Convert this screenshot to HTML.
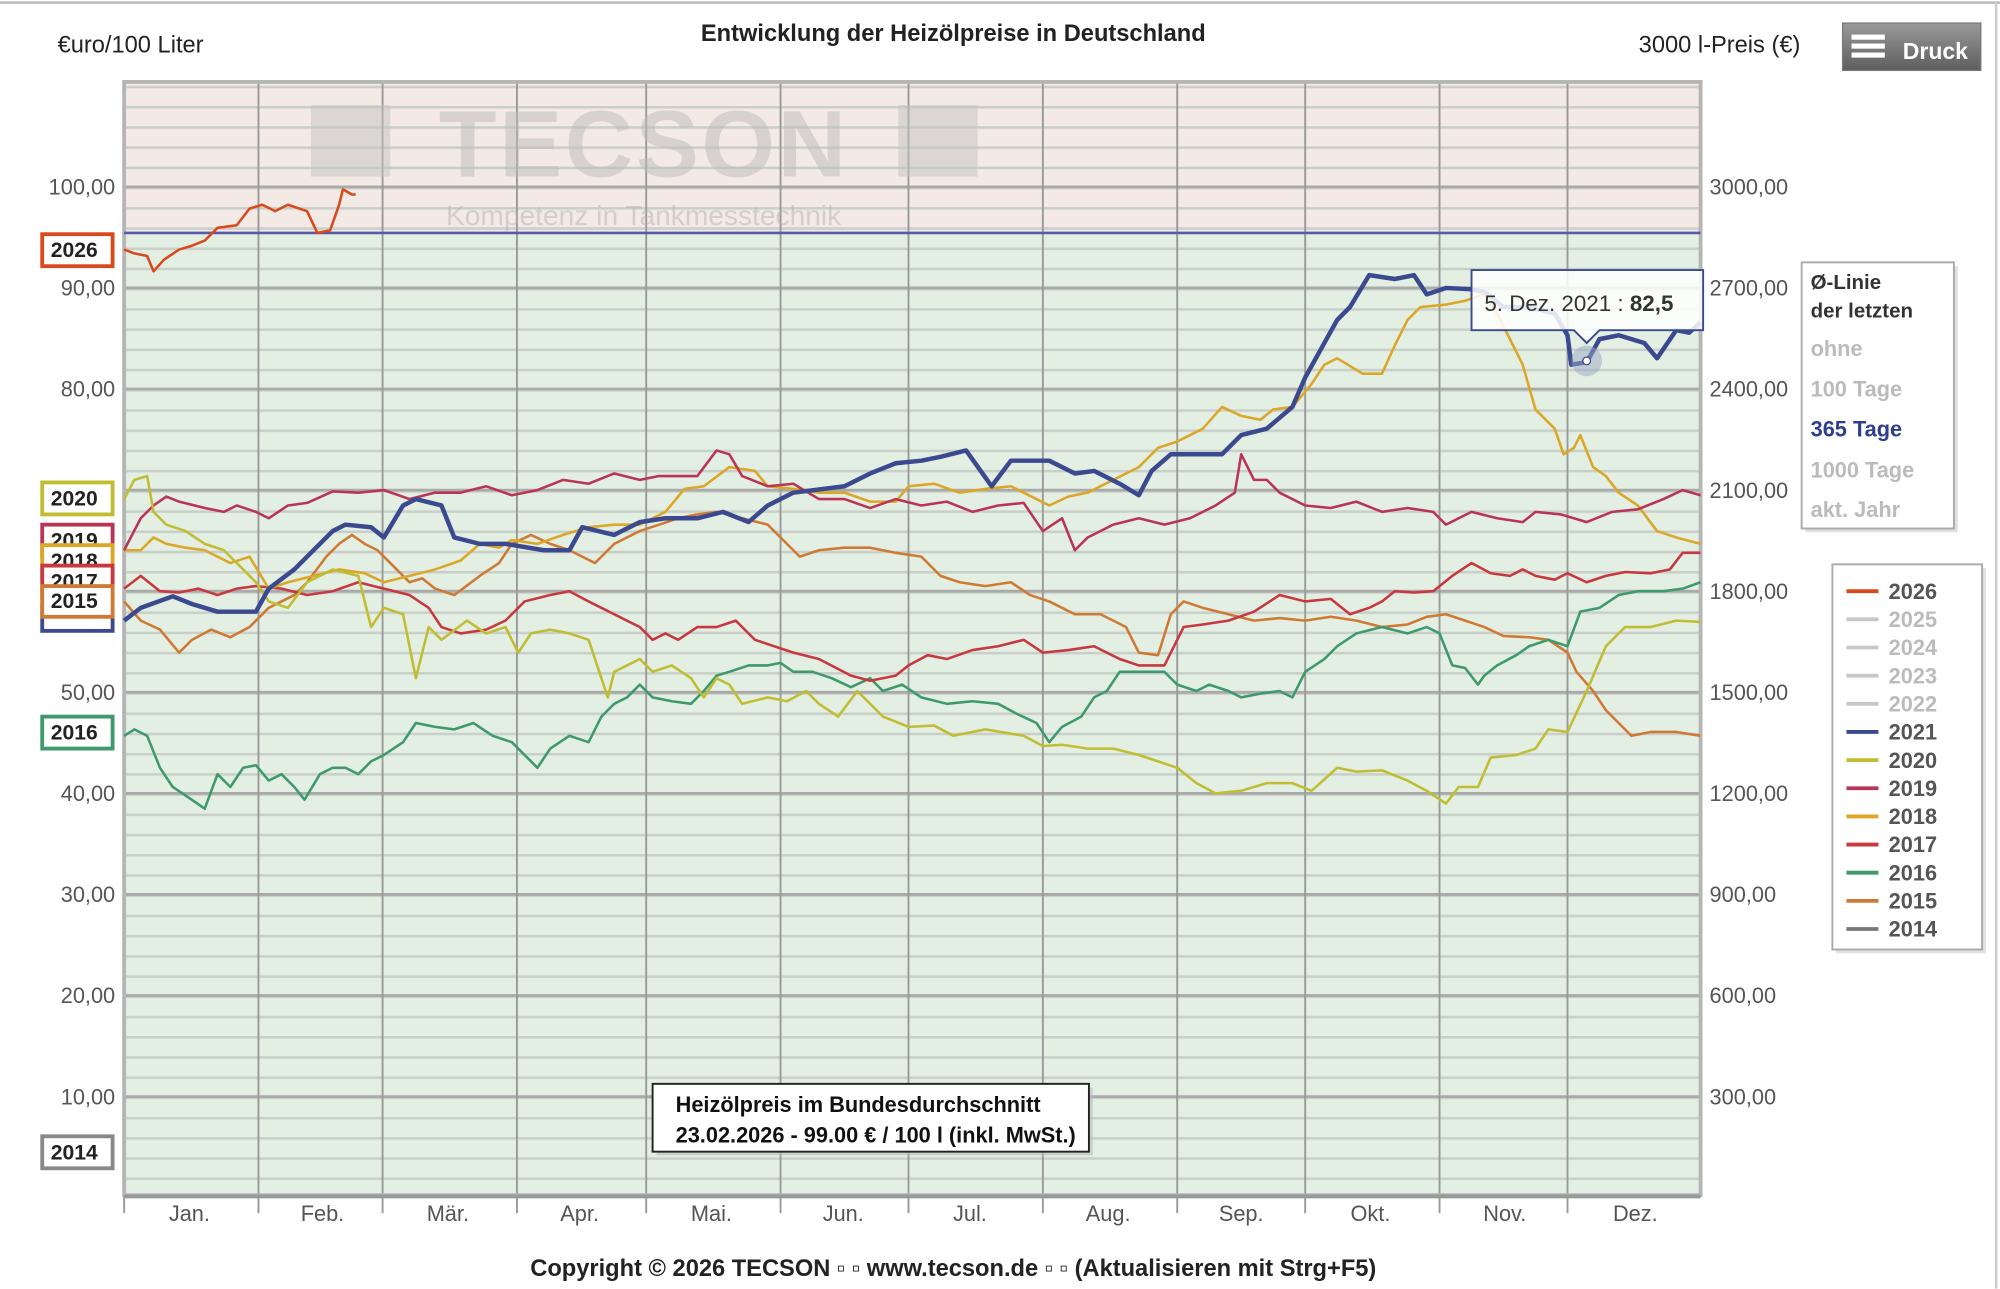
<!DOCTYPE html>
<html><head><meta charset="utf-8"><style>
html,body{margin:0;padding:0;background:#fff;}
svg{display:block;font-family:"Liberation Sans",sans-serif;}
</style></head><body>
<svg width="2000" height="1289" viewBox="0 0 1563 1007.3" xmlns="http://www.w3.org/2000/svg">
<defs>
<pattern id="hl" patternUnits="userSpaceOnUse" x="0" y="3.8" width="20" height="15.8">
<rect x="0" y="0" width="20" height="2" fill="#c9d0c9"/>
</pattern>
<linearGradient id="btn" x1="0" y1="0" x2="0" y2="1"><stop offset="0" stop-color="#9a9a9a"/><stop offset="1" stop-color="#5e5e5e"/></linearGradient>
</defs>
<line x1="0" y1="2" x2="1563" y2="2" stroke="#bbb" stroke-width="2"/>
<line x1="1560" y1="2" x2="1560" y2="1007" stroke="#ccc" stroke-width="2"/>
<text x="45" y="41" font-size="18.5" fill="#222">€uro/100 Liter</text>
<text x="745" y="32" font-size="18.5" font-weight="bold" text-anchor="middle" fill="#222">Entwicklung der Heizölpreise in Deutschland</text>
<text x="1407" y="41" font-size="18.5" text-anchor="end" fill="#222">3000 l-Preis (€)</text>
<rect x="1440" y="18" width="108" height="37" fill="url(#btn)" stroke="#777"/>
<rect x="1447" y="27" width="26" height="4" fill="#fff"/><rect x="1447" y="34" width="26" height="4" fill="#fff"/><rect x="1447" y="41" width="26" height="4" fill="#fff"/>
<text x="1487" y="46" font-size="18" font-weight="bold" fill="#fff">Druck</text>

<rect x="97" y="64" width="1232" height="118" fill="#f3e9e5"/>
<rect x="97" y="182" width="1232" height="752" fill="#e3efe3"/>
<rect x="97" y="64" width="1232" height="870" fill="url(#hl)"/>
<g stroke="#aaaaaa" stroke-width="2.2">
<line x1="97" y1="146" x2="1329" y2="146"/><line x1="97" y1="225" x2="1329" y2="225"/><line x1="97" y1="304" x2="1329" y2="304"/><line x1="97" y1="383" x2="1329" y2="383"/><line x1="97" y1="462" x2="1329" y2="462"/><line x1="97" y1="541" x2="1329" y2="541"/><line x1="97" y1="620" x2="1329" y2="620"/><line x1="97" y1="699" x2="1329" y2="699"/><line x1="97" y1="778" x2="1329" y2="778"/><line x1="97" y1="857" x2="1329" y2="857"/>
</g>
<g stroke="#9a9a9a" stroke-width="1.5">
<line x1="202" y1="64" x2="202" y2="948"/><line x1="299" y1="64" x2="299" y2="948"/><line x1="404" y1="64" x2="404" y2="948"/><line x1="505" y1="64" x2="505" y2="948"/><line x1="610" y1="64" x2="610" y2="948"/><line x1="710" y1="64" x2="710" y2="948"/><line x1="815" y1="64" x2="815" y2="948"/><line x1="920" y1="64" x2="920" y2="948"/><line x1="1020" y1="64" x2="1020" y2="948"/><line x1="1125" y1="64" x2="1125" y2="948"/><line x1="1225" y1="64" x2="1225" y2="948"/><line x1="97" y1="934" x2="97" y2="948"/>
</g>
<rect x="97" y="64" width="1232" height="870" fill="none" stroke="#b5b5b5" stroke-width="3"/>
<line x1="97" y1="935" x2="1329" y2="935" stroke="#999" stroke-width="3"/>

<g opacity="0.5">
<rect x="243" y="82" width="62" height="56" fill="#c4c4c4"/>
<rect x="702" y="82" width="62" height="56" fill="#c4c4c4"/>
<text x="503" y="138" font-size="74" font-weight="bold" fill="#bdbdbd" text-anchor="middle" letter-spacing="2">TECSON</text>
<text x="503" y="176" font-size="22" fill="#b5b5b5" text-anchor="middle">Kompetenz in Tankmesstechnik</text>
</g>
<line x1="97" y1="182" x2="1329" y2="182" stroke="#5a5aa8" stroke-width="2"/>

<g font-size="17" fill="#555" text-anchor="end">
<text x="90" y="152">100,00</text><text x="90" y="231">90,00</text><text x="90" y="310">80,00</text>
<text x="90" y="547">50,00</text><text x="90" y="626">40,00</text><text x="90" y="705">30,00</text><text x="90" y="784">20,00</text><text x="90" y="863">10,00</text>
</g>
<g font-size="17" fill="#555">
<text x="1336" y="152">3000,00</text><text x="1336" y="231">2700,00</text><text x="1336" y="310">2400,00</text><text x="1336" y="389">2100,00</text><text x="1336" y="468">1800,00</text><text x="1336" y="547">1500,00</text><text x="1336" y="626">1200,00</text><text x="1336" y="705">900,00</text><text x="1336" y="784">600,00</text><text x="1336" y="863">300,00</text>
</g>
<g font-size="17" fill="#555" text-anchor="middle">
<text x="148" y="954">Jan.</text><text x="252" y="954">Feb.</text><text x="350" y="954">Mär.</text><text x="453" y="954">Apr.</text><text x="556" y="954">Mai.</text><text x="659" y="954">Jun.</text><text x="758" y="954">Jul.</text><text x="866" y="954">Aug.</text><text x="970" y="954">Sep.</text><text x="1071" y="954">Okt.</text><text x="1176" y="954">Nov.</text><text x="1278" y="954">Dez.</text>
</g>

<g fill="none" stroke-width="2" stroke-linejoin="round">
<polyline stroke="#cf7a34" points="97,470 110,485 125,492 140,510 150,500 165,492 180,498 195,490 210,475 220,470 230,465 240,455 255,435 265,425 275,418 285,425 295,430 305,440 320,455 330,452 340,460 355,465 375,450 390,440 400,425 415,418 430,425 445,430 465,440 480,425 500,415 515,410 530,405 545,402 560,400 580,405 600,410 615,425 625,435 640,430 660,428 680,428 700,432 720,435 735,450 750,455 770,458 790,455 805,465 820,470 840,480 860,480 880,490 890,510 905,512 915,480 925,470 940,475 960,480 980,485 1000,483 1020,485 1040,482 1060,485 1080,490 1100,488 1115,482 1130,480 1145,485 1160,490 1175,497 1195,498 1210,500 1225,510 1232,525 1245,540 1255,555 1265,565 1275,575 1290,572 1310,572 1329,575"/>
<polyline stroke="#3e9a6b" points="97,575 105,570 115,575 125,600 135,615 150,625 160,632 170,605 180,615 190,600 200,598 210,610 220,605 230,615 238,625 250,605 260,600 270,600 280,605 290,595 300,590 315,580 325,565 340,568 355,570 370,565 385,575 400,580 410,590 420,600 430,585 445,575 460,580 470,560 480,550 490,545 500,535 510,545 525,548 540,550 550,540 560,528 570,525 585,520 600,520 610,518 620,525 635,525 650,530 665,537 680,530 690,540 705,535 720,545 740,550 760,548 780,550 795,558 810,565 820,580 830,568 845,560 855,545 865,540 875,525 890,525 910,525 920,535 935,540 945,535 960,540 970,545 985,542 1000,540 1010,545 1020,525 1035,515 1045,505 1060,495 1080,490 1100,495 1115,490 1125,495 1135,520 1145,522 1155,535 1160,528 1170,520 1185,512 1195,505 1210,500 1225,505 1235,478 1250,475 1265,465 1280,462 1300,462 1315,460 1329,455"/>
<polyline stroke="#c8383f" points="97,460 110,450 125,462 140,463 155,460 170,465 185,460 200,458 220,460 240,465 260,462 280,455 300,460 320,465 335,475 345,490 360,495 380,492 395,485 410,470 430,465 445,462 460,470 480,480 500,490 510,500 520,495 530,500 545,490 560,490 575,485 590,500 605,505 620,510 640,515 665,528 680,532 700,528 710,520 725,512 740,515 760,508 780,505 800,500 815,510 835,508 855,505 875,515 890,520 910,520 925,490 940,488 960,485 980,478 1000,465 1020,470 1040,468 1055,480 1070,475 1080,470 1090,462 1105,463 1120,462 1135,450 1150,440 1165,448 1180,450 1190,445 1200,450 1215,453 1225,448 1240,455 1255,450 1270,447 1290,448 1305,445 1315,432 1329,432"/>
<polyline stroke="#dca626" points="97,430 110,430 120,420 130,425 145,428 160,430 180,440 195,435 210,460 225,455 245,450 265,445 285,448 300,455 320,450 340,445 360,438 375,425 390,428 400,422 420,425 440,418 460,412 480,410 500,410 520,400 535,382 550,380 570,365 590,368 600,380 620,382 640,385 660,385 680,392 700,392 710,380 730,378 750,385 770,382 790,380 800,385 820,395 835,388 850,385 870,375 890,365 905,350 920,345 940,335 955,318 970,325 985,328 995,320 1010,318 1025,300 1035,285 1045,280 1065,292 1080,292 1090,270 1100,250 1110,240 1130,238 1145,235 1160,230 1170,245 1180,265 1190,285 1200,320 1215,335 1222,355 1230,350 1235,340 1245,365 1255,372 1265,385 1280,395 1295,415 1310,420 1329,425"/>
<polyline stroke="#b93456" points="97,430 110,405 120,395 130,388 140,392 160,397 175,400 185,395 200,400 210,405 225,395 240,393 260,384 280,385 300,383 320,390 340,385 360,385 380,380 400,387 420,383 440,375 460,378 480,370 500,375 515,372 530,372 545,372 560,352 570,355 580,372 600,380 620,378 640,390 660,390 680,397 700,390 720,395 740,392 760,400 780,395 800,393 815,415 830,405 840,430 850,420 870,410 890,405 910,410 930,405 950,395 965,385 970,355 980,375 990,375 1000,385 1020,395 1040,397 1060,392 1080,400 1100,397 1120,400 1130,410 1150,400 1170,405 1190,408 1200,400 1220,402 1240,408 1260,400 1280,398 1300,390 1315,383 1329,387"/>
<polyline stroke="#c0bd32" points="97,390 105,375 115,372 120,400 130,410 145,415 160,425 175,430 190,445 200,455 210,470 225,475 240,455 260,445 280,450 290,490 300,475 315,480 325,530 335,490 345,500 365,485 380,495 395,490 405,510 415,495 430,492 445,495 460,500 475,545 480,525 500,515 510,525 525,520 540,530 550,545 560,530 570,535 580,550 600,545 615,548 630,540 640,550 655,560 670,540 690,560 710,568 730,567 745,575 770,570 800,575 815,583 830,582 850,585 870,585 890,590 905,595 920,600 935,612 950,620 970,618 990,612 1010,612 1025,618 1045,600 1060,603 1080,602 1100,610 1115,618 1130,628 1140,615 1155,615 1165,592 1185,590 1200,585 1210,570 1225,572 1240,540 1255,505 1270,490 1290,490 1310,485 1329,486"/>
<polyline stroke="#3b4a8f" stroke-width="3.5" points="97,485 110,475 135,466 150,472 170,478 200,478 210,460 230,445 260,415 270,410 290,412 300,420 315,395 325,390 345,395 355,420 375,425 395,425 425,430 445,430 455,412 480,418 500,408 520,405 545,405 565,400 585,408 600,395 620,385 660,380 680,370 700,362 720,360 735,357 755,352 775,380 790,360 820,360 840,370 855,368 875,378 890,387 900,368 915,355 940,355 955,355 970,340 990,335 1010,318 1020,295 1035,268 1045,250 1055,240 1070,215 1090,218 1105,215 1115,230 1130,225 1150,226 1160,228 1175,240 1195,240 1215,245 1225,262 1228,285 1240,283 1250,265 1265,262 1285,268 1295,280 1310,258 1320,260 1329,252"/>
<polyline stroke="#d84a1c" points="97,195 105,198 115,200 120,212 128,203 140,195 150,192 160,188 170,178 185,176 195,163 205,160 215,165 225,160 240,165 248,182 258,180 265,160 268,148 275,152 278,152"/>
</g>
<circle cx="1240" cy="282" r="12" fill="#9aa7c4" opacity="0.5"/>
<circle cx="1240" cy="282" r="3" fill="#fff" stroke="#3b4a8f"/>

<path d="M1150,211 H1331 V258 H1250 L1240,268 L1230,258 H1150 Z" fill="#fff" fill-opacity="0.85" stroke="#3b4a8f" stroke-width="1.5"/>
<text x="1160" y="243" font-size="17.5" fill="#333">5. Dez. 2021 : <tspan font-weight="bold">82,5</tspan></text>

<g font-size="16.5" font-weight="bold" fill="#222" text-anchor="middle">
<rect x="33" y="183" width="55" height="25" fill="#fff" stroke="#d84a1c" stroke-width="3"/><text x="58" y="201">2026</text>
<rect x="33" y="473" width="55" height="20" fill="#fff" stroke="#3b4a8f" stroke-width="3"/>
<rect x="33" y="410" width="55" height="25" fill="#fff" stroke="#b93456" stroke-width="3"/><text x="58" y="428">2019</text>
<rect x="33" y="426" width="55" height="25" fill="#fff" stroke="#dca626" stroke-width="3"/><text x="58" y="444">2018</text>
<rect x="33" y="442" width="55" height="25" fill="#fff" stroke="#c8383f" stroke-width="3"/><text x="58" y="460">2017</text>
<rect x="33" y="458" width="55" height="24" fill="#fff" stroke="#cf7a34" stroke-width="3"/><text x="58" y="475">2015</text>
<rect x="33" y="377" width="55" height="25" fill="#fff" stroke="#c0bd32" stroke-width="3"/><text x="58" y="395">2020</text>
<rect x="33" y="560" width="55" height="25" fill="#fff" stroke="#3e9a6b" stroke-width="3"/><text x="58" y="578">2016</text>
<rect x="33" y="888" width="55" height="25" fill="#fff" stroke="#888" stroke-width="3"/><text x="58" y="906">2014</text>
</g>

<rect x="513" y="850" width="341" height="53" fill="#bbb" opacity="0.6"/>
<rect x="510" y="847" width="341" height="53" fill="#fff" stroke="#222" stroke-width="1.5"/>
<text x="528" y="869" font-size="17" font-weight="bold" fill="#111">Heizölpreis im Bundesdurchschnitt</text>
<text x="528" y="893" font-size="17" font-weight="bold" fill="#111">23.02.2026 - 99.00 € / 100 l (inkl. MwSt.)</text>

<rect x="1411" y="208" width="119" height="208" fill="#ccc" opacity="0.6"/>
<rect x="1408" y="205" width="119" height="208" fill="#fff" stroke="#aaa" stroke-width="1.5"/>
<g font-size="16" font-weight="bold">
<text x="1415" y="226" fill="#333">Ø-Linie</text><text x="1415" y="248" fill="#333">der letzten</text>
<text x="1415" y="278" fill="#bbb" font-size="17">ohne</text>
<text x="1415" y="310" fill="#bbb" font-size="17">100 Tage</text>
<text x="1415" y="341" fill="#2e3f8f" font-size="17">365 Tage</text>
<text x="1415" y="373" fill="#bbb" font-size="17">1000 Tage</text>
<text x="1415" y="404" fill="#bbb" font-size="17">akt. Jahr</text>
</g>

<rect x="1435" y="444" width="117" height="301" fill="#ccc" opacity="0.6"/>
<rect x="1432" y="441" width="117" height="301" fill="#fff" stroke="#aaa" stroke-width="1.5"/>
<g font-size="17" font-weight="bold" stroke-width="3">
<line x1="1443" y1="462" x2="1468" y2="462" stroke="#d84a1c"/><text x="1476" y="468" fill="#555">2026</text>
<line x1="1443" y1="484" x2="1468" y2="484" stroke="#c8c8c8"/><text x="1476" y="490" fill="#bbb">2025</text>
<line x1="1443" y1="506" x2="1468" y2="506" stroke="#c8c8c8"/><text x="1476" y="512" fill="#bbb">2024</text>
<line x1="1443" y1="528" x2="1468" y2="528" stroke="#c8c8c8"/><text x="1476" y="534" fill="#bbb">2023</text>
<line x1="1443" y1="550" x2="1468" y2="550" stroke="#c8c8c8"/><text x="1476" y="556" fill="#bbb">2022</text>
<line x1="1443" y1="572" x2="1468" y2="572" stroke="#3b4a8f"/><text x="1476" y="578" fill="#555">2021</text>
<line x1="1443" y1="594" x2="1468" y2="594" stroke="#c0bd32"/><text x="1476" y="600" fill="#555">2020</text>
<line x1="1443" y1="616" x2="1468" y2="616" stroke="#b93456"/><text x="1476" y="622" fill="#555">2019</text>
<line x1="1443" y1="638" x2="1468" y2="638" stroke="#dca626"/><text x="1476" y="644" fill="#555">2018</text>
<line x1="1443" y1="660" x2="1468" y2="660" stroke="#c8383f"/><text x="1476" y="666" fill="#555">2017</text>
<line x1="1443" y1="682" x2="1468" y2="682" stroke="#3e9a6b"/><text x="1476" y="688" fill="#555">2016</text>
<line x1="1443" y1="704" x2="1468" y2="704" stroke="#cf7a34"/><text x="1476" y="710" fill="#555">2015</text>
<line x1="1443" y1="726" x2="1468" y2="726" stroke="#777"/><text x="1476" y="732" fill="#555">2014</text>
</g>

<text x="745" y="997" font-size="18.5" font-weight="bold" text-anchor="middle" fill="#222">Copyright © 2026 TECSON ▫ ▫ www.tecson.de ▫ ▫ (Aktualisieren mit Strg+F5)</text>
</svg>
</body></html>
